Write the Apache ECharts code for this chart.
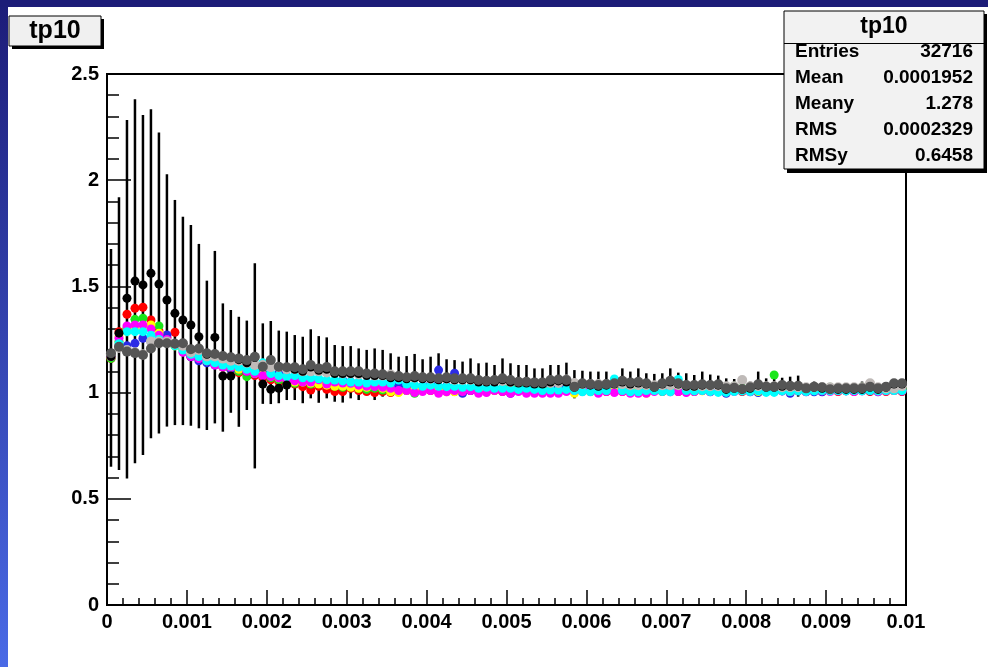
<!DOCTYPE html>
<html>
<head>
<meta charset="utf-8">
<script src="https://cdn.jsdelivr.net/npm/echarts@6/dist/echarts.min.js"></script>
<style>
  html, body { margin: 0; padding: 0; background: #fff; }
  #chart { width: 988px; height: 667px; }
</style>
</head>
<body>
<div id="chart"></div>
<script>
// profile bins: 100 bins of width 0.0001 on [0, 0.01]
const binWidth = 0.0001;

const blackPts = [
  1.170, 1.280, 1.444, 1.525, 1.507, 1.562, 1.511, 1.436, 1.373, 1.342,
  1.318, 1.263, 1.180, 1.260, 1.078, 1.078, 1.155, 1.140, 1.165, 1.040,
  1.016, 1.020, 1.036, 1.110, 1.100, 1.120, 1.105, 1.110, 1.090, 1.090,
  1.090, 1.090, 1.080, 1.080, 1.080, 1.070, 1.070, 1.065, 1.070, 1.065,
  1.065, 1.060, 1.065, 1.060, 1.060, 1.060, 1.050, 1.050, 1.050, 1.060,
  1.050, 1.045, 1.045, 1.040, 1.040, 1.050, 1.055, 1.050, 1.025, 1.040,
  1.035, 1.030, 1.035, 1.040, 1.050, 1.040, 1.045, 1.040, 1.025, 1.040,
  1.050, 1.040, 1.030, 1.030, 1.035, 1.035, 1.035, 1.015, 1.020, 1.015,
  1.020, 1.035, 1.025, 1.025, 1.030, 1.030, 1.030, 1.020, 1.025, 1.020,
  1.015, 1.015, 1.015, 1.015, 1.015, 1.025, 1.015, 1.025, 1.040, 1.040
];
const redPts = [
  1.160, 1.287, 1.369, 1.397, 1.402, 1.342, 1.290, 1.260, 1.284, 1.220,
  1.170, 1.170, 1.150, 1.140, 1.120, 1.110, 1.094, 1.090, 1.080, 1.070,
  1.060, 1.051, 1.050, 1.040, 1.028, 1.012, 1.030, 1.016, 1.005, 1.005,
  1.020, 1.010, 1.005, 1.000, 1.005, 1.000, 1.020, 1.010, 1.015, 1.010,
  1.010, 1.005, 1.010, 1.005, 1.010, 1.010, 1.005, 1.010, 1.010, 1.005,
  1.005, 1.010, 1.005, 1.005, 1.010, 1.010, 1.005, 1.010, 1.005, 1.010,
  1.005, 1.010, 1.005, 1.010, 1.005, 1.010, 1.005, 1.005, 1.010, 1.005,
  1.010, 1.005, 1.010, 1.005, 1.010, 1.005, 1.010, 1.005, 1.010, 1.005,
  1.010, 1.005, 1.010, 1.005, 1.010, 1.005, 1.010, 1.005, 1.010, 1.005,
  1.010, 1.005, 1.010, 1.005, 1.010, 1.005, 1.010, 1.005, 1.010, 1.005
];
const greenPts = [
  1.161, 1.240, 1.303, 1.345, 1.350, 1.310, 1.314, 1.240, 1.220, 1.208,
  1.170, 1.160, 1.150, 1.140, 1.130, 1.110, 1.100, 1.075, 1.090, 1.088,
  1.070, 1.060, 1.044, 1.044, 1.050, 1.040, 1.047, 1.044, 1.030, 1.025,
  1.028, 1.020, 1.015, 1.020, 1.012, 1.012, 1.020, 1.010, 0.997, 1.010,
  1.020, 1.015, 1.010, 1.020, 1.015, 1.020, 1.010, 1.020, 1.015, 1.020,
  1.025, 1.020, 1.030, 1.020, 1.015, 1.020, 1.030, 1.035, 1.020, 1.015,
  1.020, 1.025, 1.020, 1.030, 1.020, 1.015, 1.020, 1.025, 1.020, 1.030,
  1.020, 1.025, 1.030, 1.020, 1.015, 1.020, 1.025, 1.020, 1.030, 1.020,
  1.025, 1.030, 1.020, 1.083, 1.020, 1.030, 1.025, 1.020, 1.015, 1.020,
  1.025, 1.020, 1.015, 1.020, 1.025, 1.020, 1.020, 1.025, 1.020, 1.020
];
const bluePts = [
  1.170, 1.220, 1.220, 1.232, 1.256, 1.240, 1.240, 1.271, 1.230, 1.210,
  1.169, 1.150, 1.140, 1.130, 1.120, 1.110, 1.110, 1.100, 1.088, 1.090,
  1.080, 1.091, 1.075, 1.070, 1.059, 1.059, 1.060, 1.050, 1.036, 1.059,
  1.050, 1.040, 1.045, 1.040, 1.035, 1.030, 1.035, 1.020, 1.030, 1.030,
  1.040, 1.106, 1.030, 1.091, 0.997, 1.010, 1.020, 1.010, 1.020, 1.010,
  0.997, 1.010, 1.020, 1.010, 1.020, 1.028, 1.028, 1.020, 1.015, 1.020,
  1.030, 1.030, 1.028, 1.020, 1.020, 1.015, 1.010, 1.020, 1.015, 1.020,
  1.015, 1.010, 1.020, 1.015, 1.010, 1.004, 1.010, 0.997, 1.010, 1.008,
  1.004, 1.000, 1.010, 1.010, 1.008, 0.997, 1.008, 1.004, 1.004, 1.004,
  1.010, 1.010, 1.008, 1.008, 1.010, 1.008, 1.004, 1.010, 1.010, 1.008
];
const yellowPts = [
  1.170, 1.263, 1.287, 1.300, 1.290, 1.318, 1.280, 1.240, 1.220, 1.200,
  1.180, 1.170, 1.150, 1.140, 1.120, 1.120, 1.110, 1.106, 1.090, 1.083,
  1.083, 1.070, 1.060, 1.050, 1.050, 1.045, 1.040, 1.035, 1.030, 1.030,
  1.025, 1.020, 1.025, 1.036, 1.020, 1.004, 1.000, 1.010, 1.015, 1.010,
  1.015, 1.010, 1.004, 1.004, 1.010, 1.015, 1.010, 1.008, 1.010, 1.015,
  1.010, 1.010, 1.008, 1.010, 1.015, 1.010, 1.004, 1.010, 0.997, 1.010,
  1.005, 1.010, 1.010, 1.008, 1.010, 1.005, 1.010, 0.997, 1.010, 1.010,
  1.008, 1.010, 1.005, 1.010, 1.008, 1.010, 1.005, 1.010, 1.008, 1.010,
  1.010, 1.005, 1.008, 1.010, 1.010, 1.005, 1.010, 1.008, 1.010, 1.010,
  1.008, 1.010, 1.010, 1.008, 1.010, 1.010, 1.008, 1.010, 1.010, 1.010
];
const magentaPts = [
  1.170, 1.256, 1.314, 1.318, 1.318, 1.300, 1.270, 1.250, 1.230, 1.190,
  1.170, 1.160, 1.150, 1.130, 1.120, 1.119, 1.122, 1.100, 1.090, 1.080,
  1.075, 1.070, 1.060, 1.055, 1.050, 1.050, 1.060, 1.040, 1.050, 1.045,
  1.044, 1.035, 1.030, 1.028, 1.025, 1.020, 1.010, 1.010, 1.000, 1.005,
  1.010, 0.997, 1.004, 1.010, 1.005, 1.010, 0.997, 1.000, 1.010, 1.005,
  0.997, 1.005, 0.997, 0.997, 0.997, 0.997, 0.997, 1.005, 1.010, 1.005,
  1.010, 0.997, 1.005, 1.000, 1.005, 0.997, 0.997, 0.997, 1.005, 1.010,
  1.004, 1.005, 1.000, 1.005, 1.010, 1.005, 1.010, 1.005, 1.005, 1.010,
  1.005, 1.010, 1.005, 1.010, 1.008, 1.005, 1.010, 1.005, 1.010, 1.008,
  1.005, 1.008, 1.010, 1.005, 1.008, 1.010, 1.005, 1.008, 1.010, 1.008
];
const cyanPts = [
  1.180, 1.230, 1.287, 1.287, 1.287, 1.270, 1.250, 1.240, 1.220, 1.200,
  1.180, 1.170, 1.150, 1.140, 1.130, 1.125, 1.120, 1.110, 1.100, 1.140,
  1.090, 1.080, 1.075, 1.080, 1.070, 1.070, 1.065, 1.060, 1.059, 1.055,
  1.050, 1.050, 1.045, 1.050, 1.050, 1.045, 1.059, 1.040, 1.035, 1.030,
  1.035, 1.030, 1.028, 1.030, 1.025, 1.028, 1.020, 1.025, 1.020, 1.020,
  1.020, 1.015, 1.020, 1.015, 1.010, 1.012, 1.012, 1.015, 1.010, 1.004,
  1.004, 1.010, 1.010, 1.064, 1.010, 1.004, 1.004, 1.010, 1.010, 1.005,
  1.004, 1.062, 1.010, 1.008, 1.010, 1.005, 1.001, 1.001, 1.005, 1.008,
  1.005, 1.008, 1.001, 1.001, 1.008, 1.005, 1.008, 1.005, 1.008, 1.010,
  1.008, 1.010, 1.008, 1.010, 1.008, 1.010, 1.008, 1.010, 1.010, 1.010
];
const tanPts = [
  1.180, 1.210, 1.200, 1.190, 1.180, 1.240, 1.240, 1.240, 1.230, 1.220,
  1.190, 1.200, 1.170, 1.170, 1.160, 1.150, 1.150, 1.140, 1.130, 1.130,
  1.120, 1.120, 1.110, 1.110, 1.100, 1.100, 1.100, 1.095, 1.095, 1.090,
  1.090, 1.085, 1.085, 1.080, 1.080, 1.085, 1.075, 1.070, 1.070, 1.070,
  1.065, 1.065, 1.065, 1.060, 1.060, 1.060, 1.055, 1.055, 1.055, 1.055,
  1.050, 1.050, 1.050, 1.045, 1.045, 1.045, 1.045, 1.062, 1.045, 1.040,
  1.040, 1.040, 1.040, 1.040, 1.040, 1.035, 1.035, 1.035, 1.035, 1.035,
  1.035, 1.035, 1.030, 1.030, 1.030, 1.030, 1.030, 1.030, 1.030, 1.059,
  1.030, 1.030, 1.030, 1.030, 1.025, 1.025, 1.025, 1.025, 1.025, 1.025,
  1.025, 1.025, 1.025, 1.025, 1.025, 1.044, 1.025, 1.020, 1.020, 1.030
];
const grayPts = [
  1.185, 1.216, 1.193, 1.186, 1.177, 1.208, 1.232, 1.232, 1.230, 1.232,
  1.204, 1.208, 1.185, 1.182, 1.172, 1.166, 1.161, 1.153, 1.169, 1.122,
  1.153, 1.122, 1.119, 1.119, 1.110, 1.130, 1.114, 1.120, 1.100, 1.100,
  1.100, 1.100, 1.090, 1.090, 1.086, 1.078, 1.078, 1.072, 1.078, 1.072,
  1.072, 1.067, 1.072, 1.067, 1.067, 1.067, 1.059, 1.056, 1.059, 1.067,
  1.059, 1.051, 1.051, 1.048, 1.048, 1.059, 1.062, 1.059, 1.028, 1.044,
  1.040, 1.036, 1.040, 1.044, 1.056, 1.048, 1.051, 1.044, 1.028, 1.044,
  1.056, 1.044, 1.036, 1.036, 1.039, 1.036, 1.039, 1.020, 1.023, 1.017,
  1.025, 1.039, 1.028, 1.028, 1.036, 1.032, 1.032, 1.020, 1.028, 1.025,
  1.016, 1.020, 1.020, 1.020, 1.020, 1.028, 1.020, 1.028, 1.044, 1.044
];
// extent of the (black) error bars in each bin
const errTop = [
  1.676, 1.920, 2.284, 2.381, 2.307, 2.334, 2.224, 2.028, 1.907, 1.828,
  1.789, 1.700, 1.527, 1.667, 1.420, 1.389, 1.357, 1.339, 1.609, 1.326,
  1.337, 1.292, 1.287, 1.271, 1.263, 1.298, 1.266, 1.260, 1.224, 1.219,
  1.219, 1.208, 1.201, 1.208, 1.201, 1.185, 1.169, 1.172, 1.182, 1.157,
  1.169, 1.185, 1.157, 1.153, 1.146, 1.161, 1.138, 1.141, 1.130, 1.161,
  1.138, 1.130, 1.130, 1.114, 1.114, 1.130, 1.130, 1.141, 1.106, 1.103,
  1.099, 1.099, 1.099, 1.083, 1.114, 1.099, 1.114, 1.091, 1.088, 1.091,
  1.114, 1.094, 1.091, 1.083, 1.099, 1.085, 1.080, 1.067, 1.064, 1.070,
  1.052, 1.099, 1.067, 1.070, 1.070, 1.075, 1.080, 1.044, 1.052, 1.044,
  1.044, 1.039, 1.039, 1.044, 1.052, 1.044, 1.039, 1.039, 1.059, 1.059
];
const errBottom = [
  0.651, 0.636, 0.596, 0.667, 0.706, 0.785, 0.808, 0.840, 0.847, 0.847,
  0.844, 0.832, 0.824, 0.855, 0.816, 0.905, 0.839, 0.918, 0.643, 0.947,
  0.946, 0.950, 0.965, 0.965, 0.950, 0.973, 0.952, 0.973, 0.957, 0.953,
  0.973, 0.965, 0.989, 0.965, 0.981, 0.989, 0.997, 0.997, 1.004, 0.997,
  0.997, 0.989, 0.997, 0.997, 0.997, 1.004, 1.004, 1.004, 1.012, 0.997,
  1.012, 1.004, 0.989, 0.997, 0.989, 1.004, 0.989, 0.989, 0.973, 0.989,
  0.997, 0.997, 0.997, 1.004, 0.997, 0.997, 0.997, 1.004, 1.004, 1.004,
  0.997, 0.997, 1.004, 1.004, 1.004, 0.997, 1.004, 0.997, 1.004, 1.004,
  1.008, 1.001, 0.997, 0.986, 1.004, 1.001, 0.981, 1.004, 1.008, 1.008,
  1.004, 1.008, 1.008, 1.008, 1.008, 1.008, 1.008, 1.008, 1.008, 1.008
];

const statLabels = ['Entries', 'Mean', 'Meany', 'RMS', 'RMSy'];
const statValues = ['32716', '0.0001952', '1.278', '0.0002329', '0.6458'];

const FONT = '"Liberation Sans", Arial, Helvetica, sans-serif';

function binCenter(i) {
  return +(binWidth * i + binWidth / 2).toFixed(6);
}
function toPairs(arr) {
  return arr.map((v, i) => [binCenter(i), v]);
}

function markers(name, values, color, size) {
  return {
    name: name,
    type: 'scatter',
    data: toPairs(values),
    symbol: 'circle',
    symbolSize: size || 9,
    itemStyle: { color: color, opacity: 1 },
    silent: true
  };
}

const chart = echarts.init(document.getElementById('chart'), null, { renderer: 'canvas' });

const statsGraphics = [];
statLabels.forEach((lab, i) => {
  const y = 52 + i * 26;
  statsGraphics.push({
    type: 'text', z: 102,
    style: { text: lab, x: 795, y: y, fill: '#000', font: 'bold 19px ' + FONT, align: 'left', verticalAlign: 'middle' }
  });
  statsGraphics.push({
    type: 'text', z: 102,
    style: { text: statValues[i], x: 973, y: y, fill: '#000', font: 'bold 19px ' + FONT, align: 'right', verticalAlign: 'middle' }
  });
});

const option = {
  animation: false,
  backgroundColor: '#fff',
  grid: {
    left: 107, right: 82, top: 74, bottom: 62,
    show: true, borderColor: '#000', borderWidth: 2, backgroundColor: '#fff'
  },
  xAxis: {
    type: 'value',
    min: 0, max: 0.01, interval: 0.001,
    axisLine: { show: true, onZero: false, lineStyle: { color: '#000', width: 2 } },
    axisTick: { show: true, inside: true, length: 15, lineStyle: { color: '#000', width: 1.5 } },
    minorTick: { show: true, splitNumber: 5, length: 7, lineStyle: { color: '#000', width: 1.5 } },
    splitLine: { show: false },
    axisLabel: {
      color: '#000', fontWeight: 'bold', fontSize: 20, fontFamily: FONT, margin: 7,
      formatter: v => String(+v.toFixed(3))
    }
  },
  yAxis: {
    type: 'value',
    min: 0, max: 2.5, interval: 0.5,
    axisLine: { show: true, onZero: false, lineStyle: { color: '#000', width: 2 } },
    axisTick: { show: true, inside: true, length: 24, lineStyle: { color: '#000', width: 1.5 } },
    minorTick: { show: true, splitNumber: 5, length: 12, lineStyle: { color: '#000', width: 1.5 } },
    splitLine: { show: false },
    axisLabel: {
      color: '#000', fontWeight: 'bold', fontSize: 20, fontFamily: FONT, margin: 8,
      formatter: v => String(+v.toFixed(1))
    }
  },
  series: [
    markers('red', redPts, '#ff0000'),
    markers('green', greenPts, '#19e619'),
    markers('blue', bluePts, '#2b2be6'),
    markers('yellow', yellowPts, '#ffff00'),
    markers('magenta', magentaPts, '#ff00ff'),
    markers('cyan', cyanPts, '#00ffff'),
    markers('tan', tanPts, '#bfbab8', 10),
    markers('black', blackPts, '#000000'),
    {
      name: 'errors',
      type: 'custom',
      silent: true,
      data: errTop.map((t, i) => [binCenter(i), errBottom[i], t]),
      encode: { x: 0, y: [1, 2] },
      renderItem: function (params, api) {
        const lo = api.coord([api.value(0), api.value(1)]);
        const hi = api.coord([api.value(0), api.value(2)]);
        return {
          type: 'line',
          shape: { x1: lo[0], y1: lo[1], x2: hi[0], y2: hi[1] },
          style: { stroke: '#000', lineWidth: 2.5 }
        };
      }
    },
    markers('gray', grayPts, '#555555', 10)
  ],
  graphic: [
    // canvas border
    {
      type: 'rect', z: 100, silent: true,
      shape: { x: 0, y: 0, width: 8, height: 667 },
      style: {
        fill: new echarts.graphic.LinearGradient(0, 0, 0, 1, [
          { offset: 0, color: '#1c1c78' },
          { offset: 1, color: '#4a6ae6' }
        ])
      }
    },
    { type: 'rect', z: 100, silent: true, shape: { x: 0, y: 0, width: 988, height: 7 }, style: { fill: '#1c1c78' } },
    // title box
    { type: 'rect', z: 101, silent: true, shape: { x: 12, y: 19, width: 92, height: 30 }, style: { fill: '#000' } },
    { type: 'rect', z: 101, silent: true, shape: { x: 9, y: 16, width: 92, height: 30 }, style: { fill: '#f0f0f0', stroke: '#000', lineWidth: 1 } },
    {
      type: 'text', z: 102, silent: true,
      style: { text: 'tp10', x: 55, y: 31, fill: '#000', font: 'bold 25px ' + FONT, align: 'center', verticalAlign: 'middle' }
    },
    // stats box
    { type: 'rect', z: 101, silent: true, shape: { x: 787, y: 14, width: 200, height: 159 }, style: { fill: '#000' } },
    { type: 'rect', z: 101, silent: true, shape: { x: 784, y: 11, width: 200, height: 158 }, style: { fill: '#f2f2f2', stroke: '#000', lineWidth: 1 } },
    { type: 'line', z: 102, silent: true, shape: { x1: 784, y1: 43.5, x2: 984, y2: 43.5 }, style: { stroke: '#000', lineWidth: 1 } },
    {
      type: 'text', z: 102, silent: true,
      style: { text: 'tp10', x: 884, y: 27, fill: '#000', font: 'bold 23px ' + FONT, align: 'center', verticalAlign: 'middle' }
    }
  ].concat(statsGraphics)
};

chart.setOption(option);
</script>
</body>
</html>
